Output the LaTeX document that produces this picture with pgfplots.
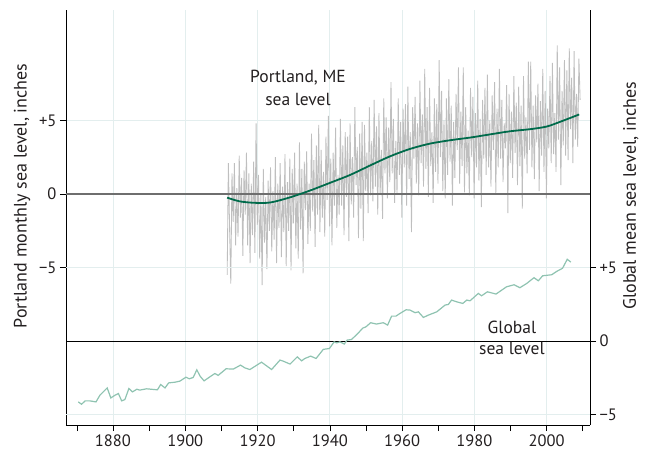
\documentclass[border=0pt]{standalone}
\usepackage{pgfplots}
\pgfplotsset{compat=1.18}
\usepackage{fontspec}
\setmainfont{PT Sans}
\definecolor{gridc}{HTML}{E3EEEE}
\definecolor{portgray}{HTML}{BFBFBF}
\definecolor{smoothgreen}{HTML}{006B4B}
\definecolor{globteal}{HTML}{8FC3B1}
\definecolor{zerogray}{HTML}{6E6E6E}
\definecolor{txt}{HTML}{231F20}
\begin{document}
\begin{tikzpicture}
\pgfplotsset{
  base/.style={scale only axis, width=524pt, height=415pt, xmin=1867, xmax=2012,
    at={(0,0)}, anchor=south west,
    tick label style={font=\fontsize{16.5}{19}\selectfont, text=txt},
    label style={font=\fontsize{18}{21}\selectfont, text=txt},
    tick align=outside, major tick length=6pt, minor tick length=6pt,
    tick style={black, line width=0.6pt},
    axis line style={-, black, line width=0.8pt},
    grid style={gridc, line width=0.8pt}}
}
\begin{axis}[base, ymin=-15.7, ymax=12.5,
  axis x line*=bottom, axis y line*=left,
  xtick={1880,1900,...,2000},
  xticklabels={1880,1900,1920,1940,1960,1980,2000},
  minor xtick={1870,1890,...,2010},
  xmajorgrids, ymajorgrids,
  ytick={-5,0,5}, yticklabels={−5,0,+5},
  ylabel={Portland monthly sea level, inches},
  ylabel style={at={(axis description cs:-0.084,0.552)}, anchor=center},
  clip=false]
\addplot[portgray, line width=0.85pt] table[row sep=\\, x expr=1911.6+\coordindex/3, y index=0] {
y\\
-5.5\\ 2.1\\ -2.3\\ -6.1\\ 1.4\\ -1.9\\ 2.1\\ -3.5\\ 0.4\\ -2.9\\ 2.6\\ -1.6\\
1.1\\ -4.2\\ 1.6\\ -1.4\\ 2.8\\ -3.5\\ 1.4\\ -4.7\\ 0.7\\ -2.8\\ 2.2\\ -4.0\\
4.8\\ -2.1\\ 1.3\\ -4.4\\ 0.0\\ -6.2\\ 1.7\\ -3.3\\ -0.2\\ -5.1\\ 0.9\\ -2.5\\
1.8\\ -3.9\\ 0.2\\ -3.1\\ 2.5\\ -4.7\\ 0.7\\ -2.3\\ 2.1\\ -4.3\\ 0.5\\ -2.6\\
2.7\\ -4.9\\ 0.8\\ -2.5\\ 2.4\\ -5.2\\ 1.7\\ -2.0\\ 2.8\\ -3.7\\ 0.7\\ -4.4\\
3.5\\ -2.4\\ 1.7\\ -5.4\\ 2.2\\ -1.1\\ 2.9\\ -3.4\\ 0.7\\ -2.5\\ 4.1\\ -1.2\\
2.3\\ -3.6\\ 3.3\\ -1.4\\ 4.7\\ -2.6\\ 3.0\\ -1.6\\ 1.5\\ -2.9\\ 3.9\\ -0.4\\
5.3\\ -2.2\\ 2.4\\ -3.5\\ 2.8\\ -0.8\\ 4.5\\ -2.3\\ 1.3\\ -1.4\\ 5.1\\ -0.8\\
3.3\\ -2.8\\ 4.2\\ -0.2\\ 3.9\\ -3.2\\ 4.8\\ -0.7\\ 2.5\\ -1.6\\ 5.9\\ 0.6\\
3.2\\ -3.0\\ 4.1\\ -1.0\\ 4.9\\ -3.2\\ 4.7\\ 0.2\\ 2.8\\ -1.3\\ 5.9\\ -0.1\\
3.6\\ -0.5\\ 6.4\\ 0.5\\ 4.6\\ -1.4\\ 5.5\\ 0.0\\ 3.0\\ -1.7\\ 6.5\\ 1.4\\
5.2\\ -0.3\\ 4.5\\ 0.8\\ 7.6\\ 1.4\\ 5.1\\ -0.6\\ 3.6\\ 0.0\\ 6.5\\ 1.3\\
4.9\\ -1.6\\ 5.8\\ 1.8\\ 6.1\\ -0.8\\ 7.3\\ 1.0\\ 4.2\\ -2.6\\ 5.9\\ 2.4\\
6.6\\ 0.7\\ 4.8\\ -0.1\\ 7.7\\ 2.1\\ 5.4\\ 0.5\\ 8.5\\ 1.7\\ 5.9\\ -0.2\\
7.2\\ 1.9\\ 4.2\\ -0.6\\ 6.5\\ 1.5\\ 6.1\\ 0.7\\ 9.1\\ 2.5\\ 7.0\\ 0.2\\
5.0\\ -0.3\\ 6.5\\ 1.3\\ 7.8\\ 2.2\\ 6.0\\ -0.8\\ 4.9\\ 1.1\\ 6.8\\ 3.0\\
8.6\\ 0.7\\ 5.6\\ 1.9\\ 8.6\\ 0.1\\ 5.9\\ 1.4\\ 4.3\\ -0.1\\ 7.2\\ 2.5\\
6.6\\ -0.3\\ 5.5\\ 1.8\\ 7.7\\ 0.9\\ 5.1\\ -0.9\\ 6.4\\ 2.4\\ 7.2\\ 1.3\\
8.1\\ 1.8\\ 5.0\\ 0.5\\ 6.7\\ 3.0\\ 7.6\\ 0.0\\ 5.8\\ 1.8\\ 8.5\\ 2.4\\
6.4\\ 0.8\\ 4.8\\ 3.1\\ 7.4\\ -1.3\\ 6.8\\ 2.1\\ 5.6\\ 1.1\\ 8.0\\ 2.8\\
6.2\\ 0.6\\ 7.3\\ 1.9\\ 6.0\\ -1.0\\ 8.0\\ 2.4\\ 5.2\\ 1.4\\ 9.0\\ 3.0\\
9.0\\ 1.8\\ 6.0\\ 1.0\\ 6.7\\ 3.5\\ 7.5\\ 0.2\\ 6.3\\ 2.6\\ 8.5\\ 1.5\\
7.0\\ -0.3\\ 5.8\\ 3.1\\ 8.0\\ 2.1\\ 8.9\\ 2.7\\ 5.5\\ 1.5\\ 10.1\\ 3.7\\
8.6\\ 0.6\\ 7.0\\ 3.3\\ 9.1\\ 2.6\\ 8.4\\ 2.3\\ 9.9\\ 4.4\\ 7.9\\ 2.1\\
9.7\\ 3.7\\ 6.8\\ 3.2\\ 9.2\\ 6.4\\
};
\addplot[zerogray, line width=1.3pt] coordinates {(1867,0) (2012,0)};
\addplot[smoothgreen, line width=1.8pt, smooth] coordinates {
(1911.6,-0.25) (1915,-0.5) (1919,-0.6) (1923.5,-0.58) (1929,-0.23)
(1934.5,0.23) (1940,0.75) (1945.6,1.29) (1951.1,1.93) (1956.7,2.56)
(1962.2,3.06) (1967.7,3.42) (1973.3,3.65) (1978.8,3.83) (1983.4,4.01)
(1989.9,4.26) (1995.4,4.40) (2000,4.58) (2003.7,4.90) (2009,5.40)};
\node[align=center, font=\fontsize{17.5}{23}\selectfont, text=txt] at (axis cs:1931.2,7.2) {Portland, ME\\sea level};
\end{axis}
\begin{axis}[base, ymin=-5.7, ymax=22.5,
  axis x line=none, axis y line*=right,
  ymajorgrids,
  ytick={-5,0,5}, yticklabels={−5,0,+5},
  yticklabel style={anchor=west},
  ylabel={Global mean sea level, inches},
  ylabel style={at={(axis description cs:1.078,0.552)}, anchor=center, rotate=0},
  clip=false]
\addplot[black, line width=0.9pt] coordinates {(1867,0) (2012,0)};
\addplot[globteal, line width=1.2pt] table[row sep=\\] {
x y\\
1870.4 -4.13\\ 1871.3 -4.29\\ 1872.3 -4.06\\ 1873.6 -4.06\\ 1875.3 -4.13\\
1876.4 -3.67\\ 1878.4 -3.18\\ 1879.4 -3.86\\ 1880.6 -3.67\\ 1881.5 -3.56\\
1882.4 -4.06\\ 1883.3 -3.97\\ 1884.4 -3.22\\ 1885.4 -3.45\\ 1886.6 -3.27\\
1887.4 -3.33\\ 1889.3 -3.24\\ 1892.3 -3.31\\ 1893.2 -2.95\\ 1894.4 -3.18\\
1895.4 -2.84\\ 1897.2 -2.79\\ 1898.5 -2.72\\ 1900.2 -2.45\\ 1901.1 -2.56\\
1902.2 -2.47\\ 1903.2 -1.95\\ 1904.1 -2.38\\ 1905.2 -2.70\\ 1906.8 -2.43\\
1908.2 -2.20\\ 1909.1 -2.33\\ 1911.3 -1.88\\ 1913.3 -1.90\\ 1915.3 -1.63\\
1916.5 -1.82\\ 1917.9 -1.93\\ 1921.1 -1.43\\ 1923.9 -1.93\\ 1926.2 -1.29\\
1927.1 -1.36\\ 1929.0 -1.56\\ 1931.0 -1.07\\ 1932.2 -1.34\\ 1933.1 -1.18\\
1934.7 -1.02\\ 1936.2 -1.18\\ 1938.2 -0.56\\ 1939.9 -0.50\\ 1941.2 -0.05\\
1941.9 -0.12\\ 1942.8 -0.05\\ 1944.0 -0.20\\ 1944.8 0.07\\ 1946.0 0.11\\
1947.6 0.48\\ 1949.1 0.88\\ 1950.0 0.97\\ 1951.3 1.25\\ 1952.9 1.16\\
1954.8 1.25\\ 1956.0 1.09\\ 1957.1 1.70\\ 1958.3 1.70\\ 1959.4 1.88\\
1961.1 2.13\\ 1962.2 2.11\\ 1963.6 1.93\\ 1964.5 1.99\\ 1965.9 1.61\\
1967.3 1.77\\ 1969.6 1.99\\ 1971.9 2.45\\ 1972.8 2.49\\ 1973.7 2.79\\
1975.1 2.67\\ 1976.8 2.56\\ 1977.9 2.79\\ 1978.8 2.74\\ 1981.1 3.24\\
1982.0 3.08\\ 1983.6 3.35\\ 1986.0 3.20\\ 1988.9 3.69\\ 1991.0 3.83\\
1992.6 3.63\\ 1994.5 3.92\\ 1996.5 4.31\\ 1997.7 4.10\\ 1998.9 4.44\\
2001.4 4.51\\ 2002.8 4.74\\ 2004.4 4.95\\ 2005.7 5.56\\ 2006.7 5.37\\
};
\node[align=center, font=\fontsize{17.5}{21}\selectfont, text=txt] at (axis cs:1990.4,0.2) {Global\\sea level};
\end{axis}
\path[use as bounding box] (-66pt,-26pt) rectangle (583pt,425pt);
\end{tikzpicture}
\end{document}
